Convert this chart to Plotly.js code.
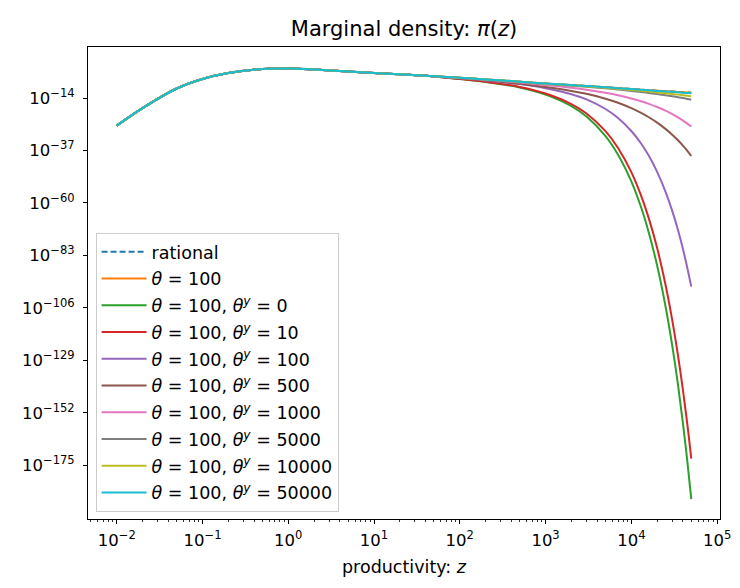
<!DOCTYPE html>
<html>
<head>
<meta charset="utf-8">
<script src="https://cdn.plot.ly/plotly-3.0.1.min.js"></script>
<style>
  html, body { margin: 0; padding: 0; background: #ffffff; }
  #chart { width: 740px; height: 588px; }
</style>
</head>
<body>
<div id="chart"></div>
<script>
// productivity grid shared by every curve
const zGrid = [0.01, 0.02, 0.05, 0.1, 0.2, 0.5, 1, 2, 5, 10, 20, 50,
               100, 200, 500, 1000, 2000, 3000, 5000, 7000, 10000, 13000, 16000,
               20000, 25000, 30000, 35000, 40000, 45000, 50000];

// log10 of the marginal density pi(z) for each model
const logRational = [-26.1, -18.4, -9.8, -5.6, -3.0, -1.2, -1.0, -1.45, -2.35, -3.0, -3.6, -4.45,
  -5.1, -5.8, -6.8, -7.6, -8.3, -8.7, -9.25, -9.6, -10.0, -10.3, -10.52,
  -10.75, -10.98, -11.15, -11.32, -11.45, -11.58, -11.7];
const logTheta100 = [-26.1, -18.4, -9.8, -5.6, -3.0, -1.2, -1.0, -1.45, -2.35, -3.0, -3.6, -4.45,
  -5.1, -5.8, -6.8, -7.6, -8.3, -8.7, -9.25, -9.6, -10.0, -10.3, -10.52,
  -10.75, -10.98, -11.15, -11.32, -11.45, -11.58, -11.7];
const logThetaY0 = [-26.1, -18.4, -9.8, -5.6, -3.0, -1.2, -1.0, -1.45, -2.35, -3.0, -3.6, -4.5,
  -5.69, -6.91, -9.37, -12.47, -17.53, -22.1, -30.65, -38.8, -50.5, -61.9, -73.02,
  -87.45, -105.18, -122.55, -139.72, -156.65, -173.28, -189.9];
const logThetaY10 = [-26.1, -18.4, -9.8, -5.6, -3.0, -1.2, -1.0, -1.45, -2.35, -3.0, -3.6, -4.5,
  -5.63, -6.8, -9.11, -11.98, -16.61, -20.76, -28.51, -35.88, -46.45, -56.74, -66.77,
  -79.78, -95.76, -111.41, -126.88, -142.13, -157.11, -172.08];
const logThetaY100 = [-26.1, -18.4, -9.8, -5.6, -3.0, -1.2, -1.0, -1.45, -2.35, -3.0, -3.6, -4.47,
  -5.33, -6.25, -7.87, -9.67, -12.29, -14.58, -18.79, -22.73, -28.43, -33.93, -39.33,
  -46.35, -54.99, -63.48, -71.88, -80.22, -88.49, -96.7];
const logThetaY500 = [-26.1, -18.4, -9.8, -5.6, -3.0, -1.2, -1.0, -1.45, -2.35, -3.0, -3.6, -4.46,
  -5.3, -6.15, -7.71, -9.13, -10.85, -12.14, -14.27, -16.04, -18.39, -20.48, -22.4,
  -24.76, -27.5, -30.06, -32.52, -34.85, -37.11, -39.3];
const logThetaY1000 = [-26.1, -18.4, -9.8, -5.6, -3.0, -1.2, -1.0, -1.45, -2.35, -3.0, -3.6, -4.45,
  -5.21, -5.99, -7.19, -8.27, -9.46, -10.3, -11.65, -12.73, -14.15, -15.41, -16.54,
  -17.93, -19.54, -21.03, -22.48, -23.86, -25.2, -26.5];
const logThetaY5000 = [-26.1, -18.4, -9.8, -5.6, -3.0, -1.2, -1.0, -1.45, -2.35, -3.0, -3.6, -4.45,
  -5.12, -5.84, -6.88, -7.74, -8.54, -9.03, -9.74, -10.24, -10.85, -11.35, -11.76,
  -12.23, -12.74, -13.19, -13.62, -14.01, -14.39, -14.75];
const logThetaY10000 = [-26.1, -18.4, -9.8, -5.6, -3.0, -1.2, -1.0, -1.45, -2.35, -3.0, -3.6, -4.45,
  -5.11, -5.82, -6.84, -7.67, -8.42, -8.87, -9.5, -9.93, -10.43, -10.83, -11.15,
  -11.5, -11.87, -12.19, -12.49, -12.75, -13.01, -13.25];
const logThetaY50000 = [-26.1, -18.4, -9.8, -5.6, -3.0, -1.2, -1.0, -1.45, -2.35, -3.0, -3.6, -4.45,
  -5.1, -5.8, -6.8, -7.61, -8.32, -8.72, -9.28, -9.64, -10.05, -10.37, -10.6,
  -10.85, -11.1, -11.28, -11.46, -11.61, -11.76, -11.9];

const seriesNames = [
  'rational',
  '<i>θ</i> = 100',
  '<i>θ</i> = 100, <i>θ<sup>y</sup></i> = 0',
  '<i>θ</i> = 100, <i>θ<sup>y</sup></i> = 10',
  '<i>θ</i> = 100, <i>θ<sup>y</sup></i> = 100',
  '<i>θ</i> = 100, <i>θ<sup>y</sup></i> = 500',
  '<i>θ</i> = 100, <i>θ<sup>y</sup></i> = 1000',
  '<i>θ</i> = 100, <i>θ<sup>y</sup></i> = 5000',
  '<i>θ</i> = 100, <i>θ<sup>y</sup></i> = 10000',
  '<i>θ</i> = 100, <i>θ<sup>y</sup></i> = 50000'
];
const seriesLogs = [logRational, logTheta100, logThetaY0, logThetaY10, logThetaY100,
                    logThetaY500, logThetaY1000, logThetaY5000, logThetaY10000, logThetaY50000];
const seriesColors = ['#1f77b4', '#ff7f0e', '#2ca02c', '#d62728', '#9467bd',
                      '#8c564b', '#e377c2', '#7f7f7f', '#bcbd22', '#17becf'];

// axis tick decades
const xTickExp = [-2, -1, 0, 1, 2, 3, 4, 5];
const yTickExp = [-175, -152, -129, -106, -83, -60, -37, -14];

const sup = e => '10<sup>' + String(e).replace('-', '\u2212') + '</sup>';

const traces = seriesLogs.map((logs, i) => ({
  type: 'scatter',
  mode: 'lines',
  x: zGrid,
  y: logs.map(v => Math.pow(10, v)),
  name: seriesNames[i],
  legendgroup: 'g' + i,
  line: {
    color: seriesColors[i],
    width: 2,
    shape: 'spline',
    smoothing: 1,
    dash: i === 0 ? '6px,3px' : 'solid'
  },
  hoverinfo: 'skip'
}));

// minor ticks on the productivity axis (2..9 within each decade)
const xMinor = [];
for (let e = -3; e <= 5; e++) {
  for (let m = 2; m <= 9; m++) xMinor.push(m * Math.pow(10, e));
}

const font = 'DejaVu Sans, Verdana, sans-serif';

const layout = {
  width: 740,
  height: 588,
  margin: { l: 88, r: 20, t: 47, b: 69 },
  paper_bgcolor: '#ffffff',
  plot_bgcolor: '#ffffff',
  font: { family: font, size: 16, color: '#000000' },
  showlegend: true,
  title: {
    text: 'Marginal density: <i>π</i>(<i>z</i>)',
    font: { family: font, size: 21, color: '#000000' },
    xref: 'paper', x: 0.5, xanchor: 'center',
    yref: 'container', y: 0.951, yanchor: 'middle'
  },
  xaxis: {
    type: 'log',
    range: [-2.335, 5.034],
    tickmode: 'array',
    tickvals: xTickExp.map(e => Math.pow(10, e)),
    ticktext: xTickExp.map(sup),
    ticks: 'outside', ticklen: 4, tickwidth: 1, tickcolor: '#000',
    ticklabelstandoff: 2,
    minor: { tickmode: 'array', tickvals: xMinor, ticks: 'outside', ticklen: 2, tickwidth: 0.8, tickcolor: '#000' },
    showline: true, linecolor: '#000', linewidth: 1, mirror: true,
    showgrid: false, zeroline: false,
    tickfont: { family: font, size: 16.5 },
    title: { text: 'productivity: <i>z</i>', font: { family: font, size: 17.5 }, standoff: 11 }
  },
  yaxis: {
    type: 'log',
    range: [-198.6, 8.4],
    tickmode: 'array',
    tickvals: yTickExp.map(e => Math.pow(10, e)),
    ticktext: yTickExp.map(sup),
    ticks: 'outside', ticklen: 4, tickwidth: 1, tickcolor: '#000',
    ticklabelstandoff: 5,
    showline: true, linecolor: '#000', linewidth: 1, mirror: true,
    showgrid: false, zeroline: false,
    tickfont: { family: font, size: 16.5 }
  },
  legend: {
    x: 0.012, y: 0.015, xanchor: 'left', yanchor: 'bottom',
    bgcolor: 'rgba(255,255,255,0.8)',
    bordercolor: '#cccccc', borderwidth: 1,
    font: { family: font, size: 17.5, color: '#000' },
    itemwidth: 45,
    tracegroupgap: 1,
    traceorder: 'grouped'
  }
};

Plotly.newPlot('chart', traces, layout, { displayModeBar: false, staticPlot: true });
</script>
</body>
</html>
